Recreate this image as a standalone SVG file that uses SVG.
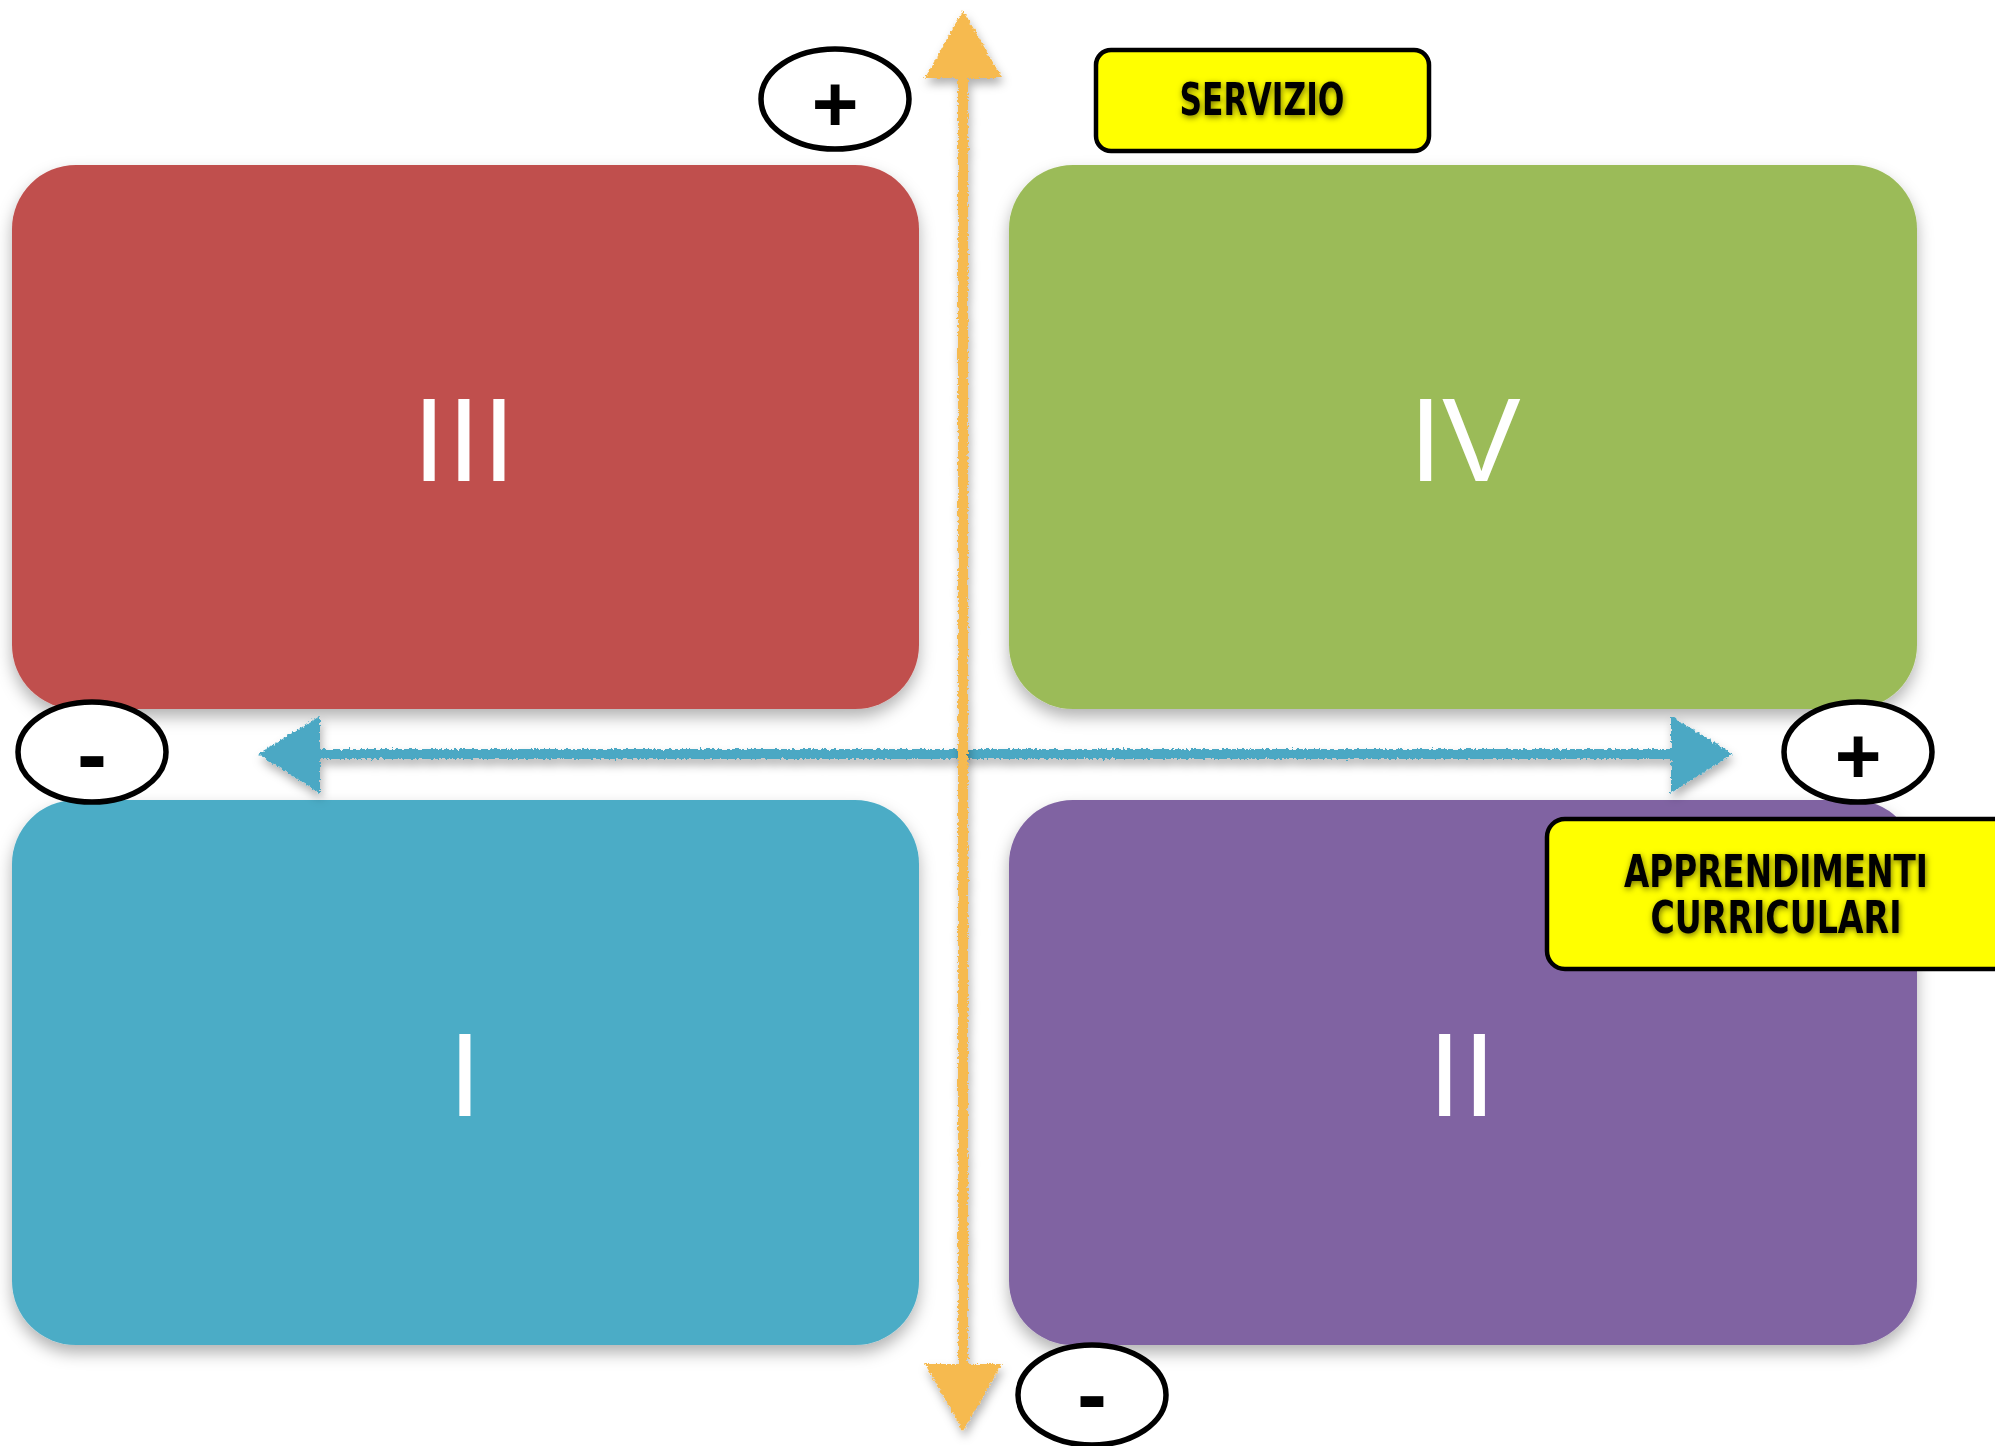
<svg xmlns="http://www.w3.org/2000/svg" width="1995" height="1446" viewBox="0 0 1995 1446">
<defs>
<filter id="sh" x="-10%" y="-10%" width="120%" height="125%">
<feDropShadow dx="0" dy="8" stdDeviation="8" flood-color="#000" flood-opacity="0.3"/>
</filter>
<filter id="ash" x="-20%" y="-20%" width="140%" height="140%">
<feTurbulence type="fractalNoise" baseFrequency="0.35" numOctaves="2" seed="3" result="n"/>
<feDisplacementMap in="SourceGraphic" in2="n" scale="5" xChannelSelector="R" yChannelSelector="G" result="d"/>
<feDropShadow in="d" dx="2" dy="6" stdDeviation="5" flood-color="#000" flood-opacity="0.3"/>
</filter>
<filter id="tg" x="-10%" y="-30%" width="120%" height="160%">
<feGaussianBlur in="SourceAlpha" stdDeviation="3" result="b"/>
<feOffset in="b" dx="1" dy="2" result="o"/>
<feFlood flood-color="#000" flood-opacity="0.55"/>
<feComposite in2="o" operator="in" result="s"/>
<feMerge><feMergeNode in="s"/><feMergeNode in="SourceGraphic"/></feMerge>
</filter>
</defs>
<style>
.q{filter:url(#sh)}
.num{font-family:"Liberation Sans",Arial,sans-serif;font-size:118px;fill:#fff;text-anchor:middle}
.ell{fill:#fff;stroke:#000;stroke-width:5.5}
.sign{font-family:"Liberation Sans",Arial,sans-serif;font-weight:bold;font-size:80px;fill:#000;text-anchor:middle}
.minus{font-family:"Liberation Sans",Arial,sans-serif;font-weight:bold;font-size:90px;fill:#000;text-anchor:middle}
.lab{fill:#ffff00;stroke:#000;stroke-width:4.5}
.lt{font-family:"DejaVu Sans Condensed","DejaVu Sans",sans-serif;font-weight:bold;font-size:44px;fill:#000;text-anchor:middle;filter:url(#tg)}
</style>
<g id="q3"><rect class="q" x="12" y="165" width="907" height="544" rx="64" fill="#C0504D"/><text class="num" x="465" y="481" letter-spacing="2">III</text></g>
<g id="q4"><rect class="q" x="1009" y="165" width="908" height="544" rx="64" fill="#9BBB59"/><text class="num" x="1465" y="481">IV</text></g>
<g id="q1"><rect class="q" x="12" y="800" width="907" height="545" rx="64" fill="#4BACC6"/><text class="num" x="465" y="1116">I</text></g>
<g id="q2"><rect class="q" x="1009" y="800" width="908" height="545" rx="64" fill="#8064A2"/><text class="num" x="1463" y="1116" letter-spacing="2">II</text></g>
<g id="connectors">
<g id="h-axis" filter="url(#ash)" fill="#4BA8C4">
<rect x="310" y="749" width="1370" height="10"/>
<polygon points="258,754 320,716 320,793"/>
<polygon points="1733,754 1671,716 1671,793"/>
</g>
<g id="v-axis" filter="url(#ash)" fill="#F6BA50">
<rect x="958" y="70" width="10" height="1300"/>
<polygon points="963,10 925,78 1002,78"/>
<polygon points="963,1431 925,1364 1002,1364"/>
</g>
</g>
<g id="plus-top"><ellipse class="ell" cx="835" cy="99" rx="74" ry="50"/><text class="sign" x="835" y="131">+</text></g>
<g id="minus-left"><ellipse class="ell" cx="92" cy="752" rx="74" ry="50"/><text class="minus" x="92" y="785">-</text></g>
<g id="plus-right"><ellipse class="ell" cx="1858" cy="752" rx="74" ry="50"/><text class="sign" x="1858" y="783">+</text></g>
<g id="minus-bottom"><ellipse class="ell" cx="1092" cy="1395" rx="74" ry="50"/><text class="minus" x="1092" y="1425">-</text></g>
<g id="servizio"><rect class="lab" x="1096" y="50" width="333" height="101" rx="15"/><text class="lt" x="1262" y="115" textLength="165" lengthAdjust="spacingAndGlyphs">SERVIZIO</text></g>
<g id="apprendimenti"><rect class="lab" x="1547" y="819" width="470" height="150" rx="18"/><text class="lt" x="1776" y="887" textLength="304" lengthAdjust="spacingAndGlyphs">APPRENDIMENTI</text><text class="lt" x="1776" y="933" textLength="251" lengthAdjust="spacingAndGlyphs">CURRICULARI</text></g>
</svg>
